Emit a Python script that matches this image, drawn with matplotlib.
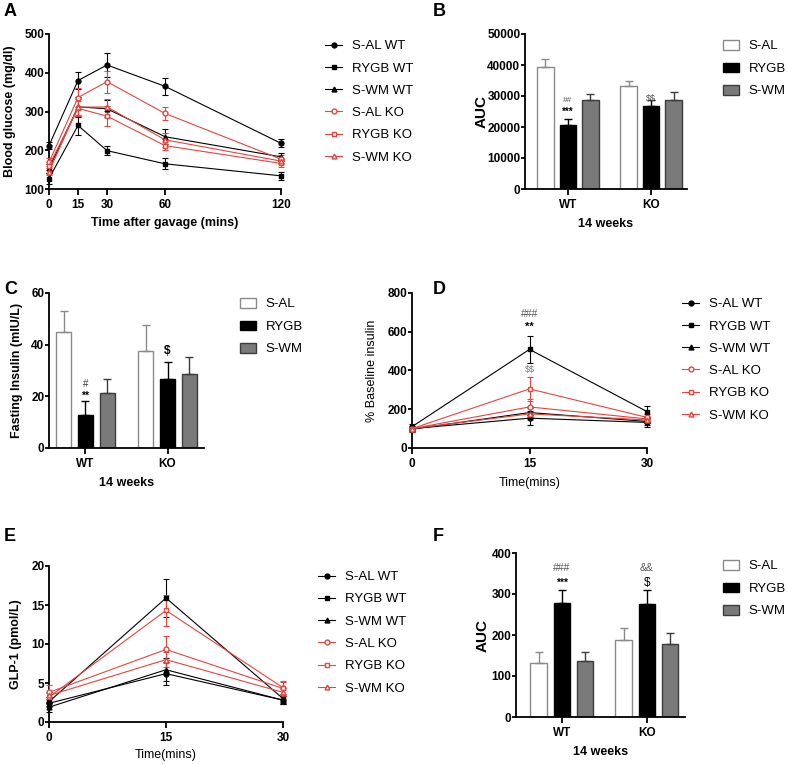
import numpy as np
import matplotlib.pyplot as plt
from matplotlib.lines import Line2D
from matplotlib.patches import Patch

plt.rcParams['font.family'] = ['Liberation Sans', 'DejaVu Sans']
plt.rcParams['text.parse_math'] = False

series = ['S-AL WT', 'RYGB WT', 'S-WM WT', 'S-AL KO', 'RYGB KO', 'S-WM KO']
groups = ['S-AL', 'RYGB', 'S-WM']
genotypes = ['WT', 'KO']

# A: oral glucose tolerance
t_gtt = [0, 15, 30, 60, 120]
glucose = [[212, 380, 420, 365, 218],
           [127, 264, 199, 165, 134],
           [153, 312, 307, 235, 183],
           [169, 336, 377, 295, 177],
           [160, 308, 288, 212, 166],
           [145, 311, 312, 227, 172]]
glucose_err = [[10, 22, 30, 22, 10],
               [14, 24, 12, 14, 10],
               [12, 25, 22, 20, 10],
               [10, 25, 28, 17, 10],
               [10, 20, 25, 12, 8],
               [10, 20, 20, 18, 8]]

# B: AUC of GTT
auc_gtt = [[39500, 20500, 28800], [33100, 26700, 28800]]
auc_gtt_err = [[2300, 2000, 2000], [1600, 2000, 2400]]

# C: fasting insulin
fast_ins = [[44.8, 12.7, 21.2], [37.5, 26.6, 28.8]]
fast_ins_err = [[8.3, 5.4, 5.7], [10.3, 6.7, 6.5]]

# D: % baseline insulin
t_short = [0, 15, 30]
ins_pct = [[100, 154, 132],
           [110, 509, 188],
           [97, 183, 137],
           [100, 212, 150],
           [100, 305, 158],
           [100, 176, 145]]
ins_pct_err = [[15, 35, 25],
               [12, 68, 28],
               [10, 30, 20],
               [10, 40, 15],
               [10, 60, 15],
               [10, 30, 15]]

# E: GLP-1
glp1 = [[2.4, 6.2, 2.8],
        [2.6, 15.9, 3.0],
        [1.9, 6.7, 2.8],
        [3.8, 9.3, 4.3],
        [3.2, 14.3, 4.4],
        [3.4, 8.0, 3.8]]
glp1_err = [[0.5, 1.5, 0.5],
            [0.6, 2.4, 0.6],
            [0.6, 1.5, 0.5],
            [0.9, 1.7, 0.8],
            [0.6, 2.0, 0.8],
            [0.5, 1.0, 0.5]]

# F: AUC of GLP-1
auc_glp1 = [[132, 279, 137], [189, 275, 178]]
auc_glp1_err = [[26, 30, 22], [29, 34, 26]]

RED = '#e2463f'
line_colors = ['black', 'black', 'black', RED, RED, RED]
line_marks = ['o', 's', '^', 'o', 's', '^']
line_fill = ['black', 'black', 'black', 'white', 'white', 'white']
bar_face = ['white', 'black', '#7a7a7a']
bar_edge = ['#8a8a8a', 'black', '#3c3c3c']

W, H = 787, 764
fig = plt.figure(figsize=(W / 100, H / 100), dpi=100)
LEG_FS = 9.5


def ax_at(l, t, r, b):
    ax = fig.add_axes([l / W, 1 - b / H, (r - l) / W, (b - t) / H])
    ax.box_px = (l, t, r, b)
    for s in ['top', 'right']:
        ax.spines[s].set_visible(False)
    for s in ['left', 'bottom']:
        ax.spines[s].set_linewidth(1.3)
    ax.tick_params(width=1.3, labelsize=8.5)
    ax.tick_params(axis='y', length=2.8, pad=0.6)
    ax.tick_params(axis='x', length=4, pad=3)
    return ax


def bold_ticks(ax):
    for lab in ax.get_xticklabels() + ax.get_yticklabels():
        lab.set_fontweight('bold')


def labels(ax, xl, xl_y, yl, yl_x, bold_x=True, bold_y=True, yfs=9):
    l, t, r, b = ax.box_px
    ax.set_xlabel(xl, fontsize=9, fontweight='bold' if bold_x else 'normal', va='center')
    ax.xaxis.set_label_coords(0.5, (b - xl_y) / (b - t))
    ax.set_ylabel(yl, fontsize=yfs, fontweight='bold' if bold_y else 'normal', va='center')
    ax.yaxis.set_label_coords((yl_x - l) / (r - l), 0.5)


def panel_letter(x, y, s):
    fig.text(x / W, 1 - y / H, s, fontsize=13, fontweight='bold', va='top', ha='left')


def line_panel(ax, t, means, errs):
    for i in range(len(series)):
        ax.errorbar(t, means[i], yerr=errs[i], color=line_colors[i], marker=line_marks[i],
                    mfc=line_fill[i], mec=line_colors[i], ms=3.5, lw=0.8, elinewidth=0.8,
                    capsize=2.5, capthick=0.8, clip_on=False, zorder=3)


def line_legend(ax, x, y):
    handles = [Line2D([0], [0], color=line_colors[i], marker=line_marks[i], mfc=line_fill[i],
                      mec=line_colors[i], ms=3.5, lw=0.8) for i in range(len(series))]
    ax.legend(handles, series, loc='upper left', bbox_to_anchor=(x / W, 1 - y / H),
              bbox_transform=fig.transFigure, frameon=False, fontsize=LEG_FS, handlelength=1.3,
              labelspacing=0.76, borderpad=0, borderaxespad=0, handletextpad=0.75)


def bar_panel(ax, means, errs, offset, width):
    pos = []
    for g in range(2):
        for k in range(3):
            x = g * offset + k
            ax.bar(x, means[g][k], width=width, color=bar_face[k], edgecolor=bar_edge[k], lw=1.0)
            ax.errorbar(x, means[g][k], yerr=[[0], [errs[g][k]]], color=bar_edge[k],
                        elinewidth=1.0, capsize=3, capthick=1.0, fmt='none')
            pos.append(x)
    ax.set_xticks([1, offset + 1])
    ax.set_xticklabels(genotypes)
    return pos


def bar_legend(ax, x, y):
    handles = [Patch(facecolor=bar_face[k], edgecolor=bar_edge[k], lw=1.0) for k in range(3)]
    ax.legend(handles, groups, loc='upper left', bbox_to_anchor=(x / W, 1 - y / H),
              bbox_transform=fig.transFigure, frameon=False, fontsize=LEG_FS, handlelength=1.2,
              handleheight=0.76, labelspacing=0.76, borderpad=0, borderaxespad=0,
              handletextpad=0.75)


# ---- A ----
axA = ax_at(49, 34, 281, 189)
line_panel(axA, t_gtt, glucose, glucose_err)
axA.set_xlim(0, 120)
axA.set_ylim(100, 500)
axA.set_xticks(t_gtt)
axA.set_yticks([100, 200, 300, 400, 500])
bold_ticks(axA)
labels(axA, 'Time after gavage (mins)', 223, 'Blood glucose (mg/dl)', 10)
line_legend(axA, 325, 40)
panel_letter(4, 3, 'A')

# ---- B ----
axB = ax_at(525, 34, 687, 189)
pB = bar_panel(axB, auc_gtt, auc_gtt_err, 3.69, 0.75)
axB.set_xlim(-0.91, 6.29)
axB.set_ylim(0, 50000)
axB.set_yticks(np.arange(0, 50001, 10000))
bold_ticks(axB)
labels(axB, '14 weeks', 224, 'AUC', 482, yfs=11)
axB.text(pB[1], 28700, '##', ha='center', va='center', fontsize=6, color='#555555')
axB.text(pB[1], 25000, '***', ha='center', va='center', fontsize=7, fontweight='bold')
axB.text(pB[4], 29300, '$$', ha='center', va='center', fontsize=6.5, color='#555555')
bar_legend(axB, 723, 40)
panel_letter(433, 3, 'B')

# ---- C ----
axC = ax_at(49, 293, 204, 448)
pC = bar_panel(axC, fast_ins, fast_ins_err, 3.73, 0.68)
axC.set_xlim(-0.66, 6.39)
axC.set_ylim(0, 60)
axC.set_yticks([0, 20, 40, 60])
bold_ticks(axC)
labels(axC, '14 weeks', 483, 'Fasting Insulin (mIU/L)', 17)
axC.text(pC[1], 24.8, '#', ha='center', va='center', fontsize=7, color='#333333')
axC.text(pC[1], 20.0, '**', ha='center', va='center', fontsize=7.5, fontweight='bold')
axC.text(pC[4], 37.5, '$', ha='center', va='center', fontsize=8.5, fontweight='bold')
bar_legend(axC, 240, 298)
panel_letter(4, 281, 'C')

# ---- D ----
axD = ax_at(412, 293, 647, 448)
line_panel(axD, t_short, ins_pct, ins_pct_err)
axD.set_xlim(0, 30)
axD.set_ylim(0, 800)
axD.set_xticks(t_short)
axD.set_yticks([0, 200, 400, 600, 800])
bold_ticks(axD)
labels(axD, 'Time(mins)', 483, '% Baseline insulin', 372, bold_x=False, bold_y=False)
axD.text(15, 690, '###', ha='center', va='center', fontsize=7.5, color='#555555')
axD.text(15, 626, '**', ha='center', va='center', fontsize=8, fontweight='bold')
axD.text(15, 403, '$$', ha='center', va='center', fontsize=6.5, color='#777777')
line_legend(axD, 682, 298)
panel_letter(433, 281, 'D')

# ---- E ----
axE = ax_at(49, 566, 283, 722)
line_panel(axE, t_short, glp1, glp1_err)
axE.set_xlim(0, 30)
axE.set_ylim(0, 20)
axE.set_xticks(t_short)
axE.set_yticks([0, 5, 10, 15, 20])
bold_ticks(axE)
labels(axE, 'Time(mins)', 755, 'GLP-1 (pmol/L)', 16, bold_x=False)
line_legend(axE, 318, 571)
panel_letter(4, 528, 'E')

# ---- F ----
axF = ax_at(516, 553, 685, 717)
pF = bar_panel(axF, auc_glp1, auc_glp1_err, 3.65, 0.71)
axF.set_xlim(-0.97, 6.29)
axF.set_ylim(0, 400)
axF.set_yticks([0, 100, 200, 300, 400])
bold_ticks(axF)
labels(axF, '14 weeks', 752, 'AUC', 483, yfs=11)
axF.text(pF[1], 363, '###', ha='center', va='center', fontsize=7.5, color='#555555')
axF.text(pF[1], 328, '***', ha='center', va='center', fontsize=7.5, fontweight='bold')
axF.text(pF[4], 363, '&&', ha='center', va='center', fontsize=7.5, color='#555555')
axF.text(pF[4], 328, '$', ha='center', va='center', fontsize=8.5)
bar_legend(axF, 723, 560)
panel_letter(433, 528, 'F')

fig.savefig('out.png', dpi=100)
